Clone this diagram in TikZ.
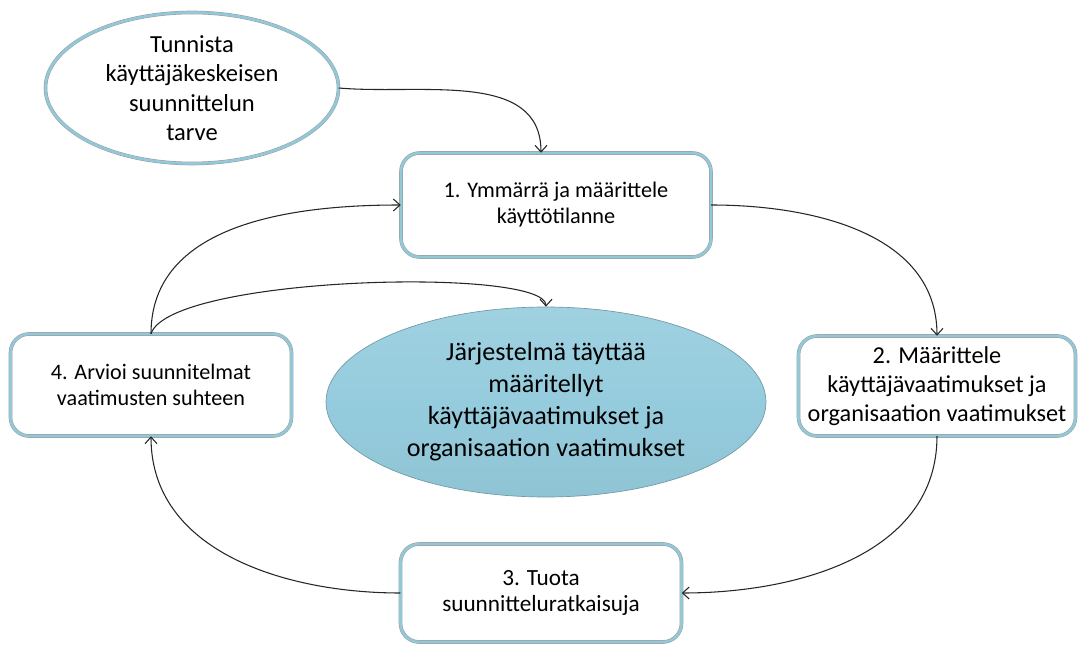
\documentclass[tikz,border=0pt]{standalone}
\usepackage{fontspec}
\setmainfont{Carlito}
\usetikzlibrary{shapes.geometric,arrows.meta,calc}
\definecolor{rimblue}{HTML}{92C8D8}
\definecolor{coreblue}{HTML}{95CCDD}
\definecolor{edgegrey}{HTML}{9A9A9A}
\tikzset{
  rim/.style={draw=edgegrey, line width=0.35pt, double=rimblue, double distance=2pt},
  stepbox/.style={rim, rounded corners=14pt, fill=white, align=center, inner sep=0pt},
  startoval/.style={ellipse, rim, fill=white, align=center, inner sep=0pt,
    font=\fontsize{18.4}{22}\selectfont},
  goaloval/.style={ellipse, draw=coreblue!75!black, line width=0.5pt, align=center, inner sep=0pt,
    top color=coreblue!90!white, bottom color=coreblue!96!black, middle color=coreblue,
    font=\fontsize{19.6}{24}\selectfont},
  flow/.style={draw=black!85, line width=0.8pt, -{Straight Barb[length=5pt,width=9pt]}},
}
\begin{document}
\begin{tikzpicture}[x=0.75pt,y=-0.75pt]
\useasboundingbox (0,0) rectangle (1079,648);
% nodes
\node[startoval, minimum width=293*0.75pt, minimum height=151*0.75pt] (need) at (192,88)
  {Tunnista\\käyttäjäkeskeisen\\suunnittelun\\tarve};
\node[stepbox, minimum width=310*0.75pt, minimum height=104*0.75pt,
  font=\fontsize{16.7}{19.5}\selectfont] (s1) at (556,205)
  {1. Ymmärrä ja määrittele\\käyttötilanne};
\node[stepbox, minimum width=277*0.75pt, minimum height=100*0.75pt,
  font=\fontsize{18.2}{21.5}\selectfont] (s2) at (937,386)
  {2. Määrittele\\käyttäjävaatimukset ja\\organisaation vaatimukset};
\node[stepbox, minimum width=281*0.75pt, minimum height=98*0.75pt,
  font=\fontsize{17.4}{19.5}\selectfont] (s3) at (541,593)
  {3. Tuota\\suunnitteluratkaisuja};
\node[stepbox, minimum width=281*0.75pt, minimum height=102*0.75pt,
  font=\fontsize{16.6}{19.5}\selectfont] (s4) at (151,385)
  {4. Arvioi suunnitelmat\\vaatimusten suhteen};
\node[goaloval, minimum width=440*0.75pt, minimum height=190*0.75pt] (goal) at (546,402)
  {Järjestelmä täyttää\\määritellyt\\käyttäjävaatimukset ja\\organisaation vaatimukset};
% connectors
\draw[flow] (need.east) to[out=-5,in=90] ($(s1.north)+(-15,0)$);
\draw[flow] (s1.east) to[out=0,in=90] (s2.north);
\draw[flow] (s2.south) to[out=-90,in=0] (s3.east);
\draw[flow] (s3.west) to[out=180,in=-90] (s4.south);
\draw[flow] (s4.north) to[out=90,in=180] (s1.west);
\draw[flow] (s4.north) .. controls ($(s4.north)+(19,-58)$) and ($(goal.north)+(0,-40)$) .. (goal.north);
\end{tikzpicture}
\end{document}
